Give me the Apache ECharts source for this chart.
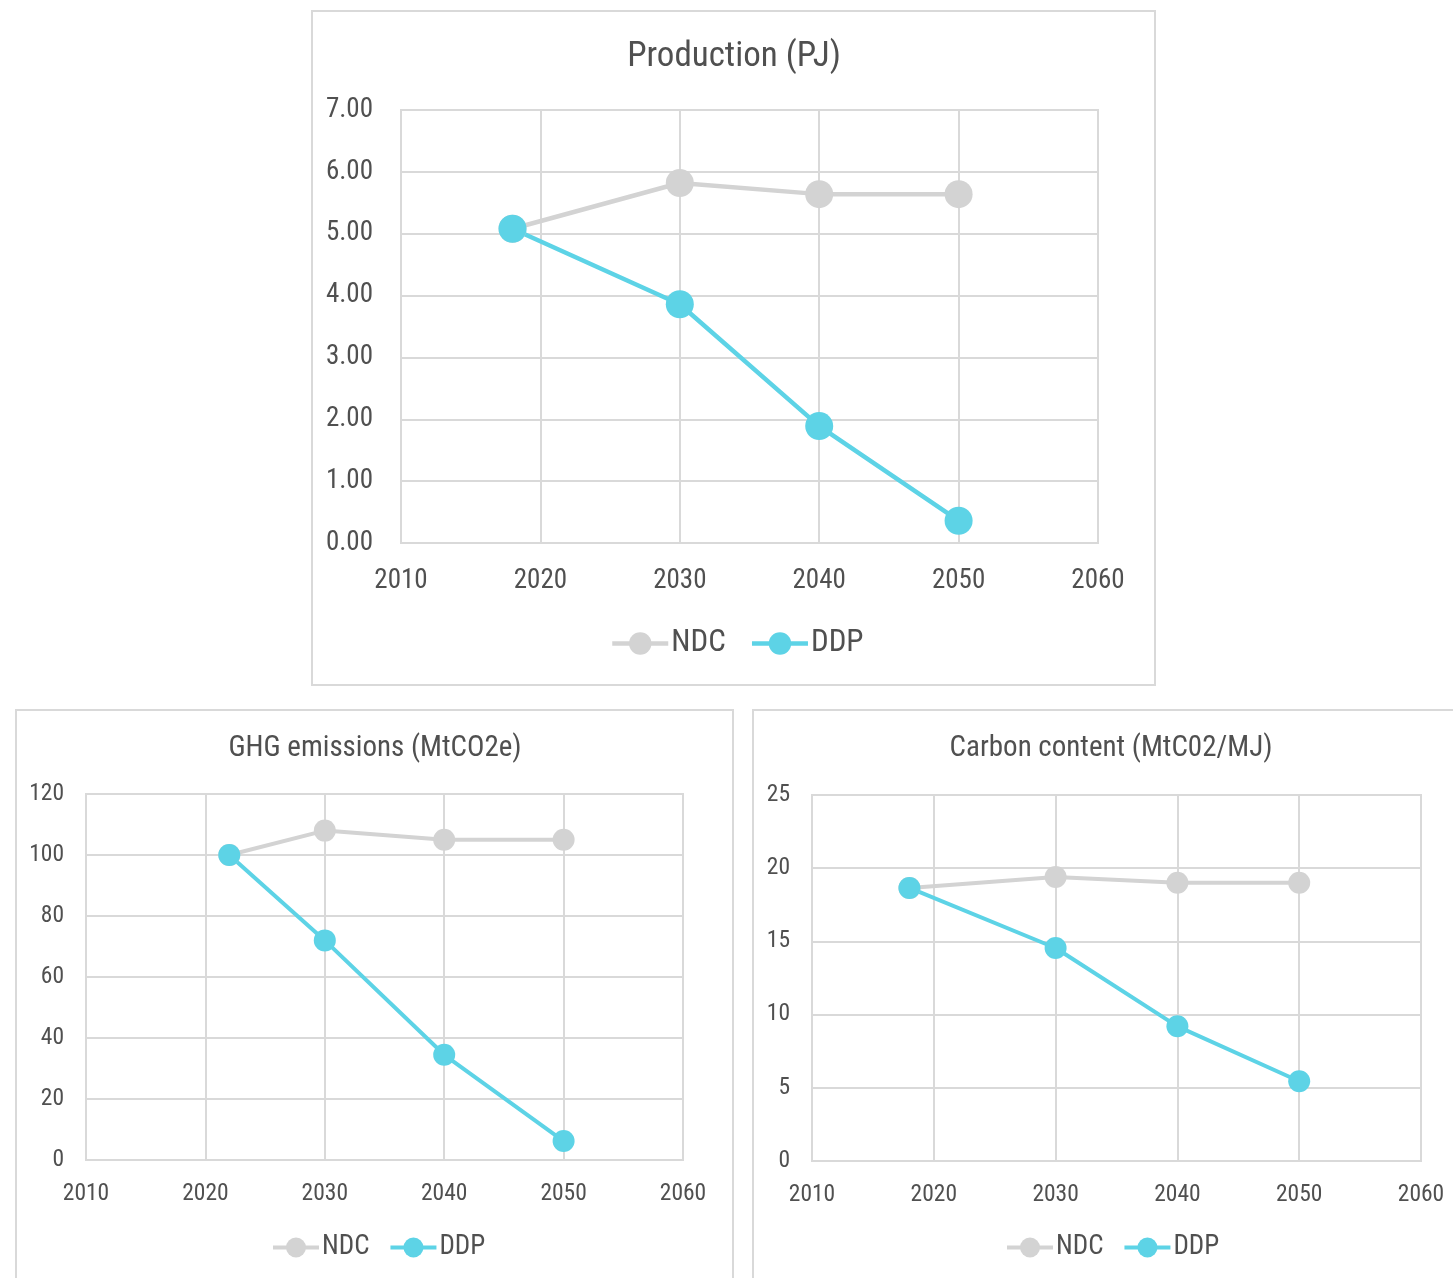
<!DOCTYPE html>
<html>
<head>
<meta charset="utf-8">
<title>Production, GHG emissions and carbon content</title>
<script src="https://cdn.jsdelivr.net/npm/echarts@6/dist/echarts.min.js"></script>
<style>
  html, body { margin: 0; padding: 0; background: #ffffff; }
  #chart { width: 1453px; height: 1278px; }
</style>
</head>
<body>
<div id="chart"></div>
<script>
// Series names
const seriesNames = ['NDC', 'DDP'];

// Production (PJ)
const prodYears = [2018, 2030, 2040, 2050];
const prodNDC = [5.08, 5.82, 5.64, 5.64];
const prodDDP = [5.08, 3.86, 1.89, 0.36];

// GHG emissions (MtCO2e)
const ghgYears = [2022, 2030, 2040, 2050];
const ghgNDC = [100, 108, 105, 105];
const ghgDDP = [100, 72, 34.5, 6.2];

// Carbon content (MtC02/MJ)
const carbonYears = [2018, 2030, 2040, 2050];
const carbonNDC = [18.65, 19.4, 19.0, 19.0];
const carbonDDP = [18.65, 14.55, 9.2, 5.45];

// Axis ranges
const yearMin = 2010, yearMax = 2060, yearStep = 10;
const prodMax = 7, prodStep = 1;
const ghgMax = 120, ghgStep = 20;
const carbonMax = 25, carbonStep = 5;

const FONT = '"Roboto Condensed", "Liberation Sans Narrow", "Arial Narrow", "DejaVu Sans Condensed", sans-serif';
const TEXT = '#505050';
const GRIDLINE = '#d9d9d9';
const COLORS = { NDC: '#d3d3d3', DDP: '#5dd3e6' };

function pairs(xs, ys) { return xs.map((x, i) => [x, ys[i]]); }

const panels = [
  {
    title: 'Production (PJ)', titleX: 734, titleY: 57, titleSize: 35,
    grid: { left: 401, top: 110, width: 697, height: 433 },
    yMax: prodMax, yStep: prodStep, fmt: v => v.toFixed(2),
    tickSize: 27, yMargin: 28, xMargin: 25,
    years: prodYears, ndc: prodNDC, ddp: prodDDP,
    lineWidth: 4.5, symbolSize: 28,
    legend: { left: 610, top: 628, itemWidth: 56, itemHeight: 28, itemGap: 24, fontSize: 31, lineWidth: 4.5 }
  },
  {
    title: 'GHG emissions (MtCO2e)', titleX: 375, titleY: 749, titleSize: 29,
    grid: { left: 86, top: 794, width: 597, height: 366 },
    yMax: ghgMax, yStep: ghgStep, fmt: v => String(v),
    tickSize: 23.5, yMargin: 22, xMargin: 22,
    years: ghgYears, ndc: ghgNDC, ddp: ghgDDP,
    lineWidth: 4, symbolSize: 22,
    legend: { left: 271, top: 1234, itemWidth: 46, itemHeight: 25, itemGap: 19, fontSize: 27, lineWidth: 4 }
  },
  {
    title: 'Carbon content (MtC02/MJ)', titleX: 1111, titleY: 749, titleSize: 29,
    grid: { left: 812, top: 795, width: 609, height: 366 },
    yMax: carbonMax, yStep: carbonStep, fmt: v => String(v),
    tickSize: 23.5, yMargin: 22, xMargin: 22,
    years: carbonYears, ndc: carbonNDC, ddp: carbonDDP,
    lineWidth: 4, symbolSize: 22,
    legend: { left: 1005, top: 1234, itemWidth: 46, itemHeight: 25, itemGap: 19, fontSize: 27, lineWidth: 4 }
  }
];

const option = {
  backgroundColor: '#ffffff',
  animation: false,
  textStyle: { fontFamily: FONT },
  title: [],
  legend: [],
  grid: [],
  xAxis: [],
  yAxis: [],
  series: [],
  graphic: [
    // panel frames
    { type: 'rect', shape: { x: 312, y: 11, width: 843, height: 674 },
      style: { fill: 'none', stroke: GRIDLINE, lineWidth: 2 }, silent: true },
    { type: 'rect', shape: { x: 16, y: 710, width: 717, height: 600 },
      style: { fill: 'none', stroke: GRIDLINE, lineWidth: 2 }, silent: true },
    { type: 'rect', shape: { x: 753, y: 710, width: 760, height: 600 },
      style: { fill: 'none', stroke: GRIDLINE, lineWidth: 2 }, silent: true }
  ]
};

panels.forEach((p, i) => {
  option.title.push({
    text: p.title, left: p.titleX, top: p.titleY, padding: 0,
    textAlign: 'center', textVerticalAlign: 'middle',
    textStyle: { fontFamily: FONT, fontSize: p.titleSize, fontWeight: 'normal', color: '#505050' }
  });
  option.grid.push(Object.assign({ show: true, borderColor: GRIDLINE, borderWidth: 2, containLabel: false }, p.grid));
  option.xAxis.push({
    type: 'value', gridIndex: i, min: yearMin, max: yearMax, interval: yearStep,
    axisLine: { show: false }, axisTick: { show: false },
    axisLabel: { margin: p.xMargin, color: TEXT, fontFamily: FONT, fontSize: p.tickSize, formatter: v => String(v) },
    splitLine: { show: true, lineStyle: { color: GRIDLINE, width: 2 } }
  });
  option.yAxis.push({
    type: 'value', gridIndex: i, min: 0, max: p.yMax, interval: p.yStep,
    axisLine: { show: false }, axisTick: { show: false },
    axisLabel: { margin: p.yMargin, color: TEXT, fontFamily: FONT, fontSize: p.tickSize, formatter: p.fmt },
    splitLine: { show: true, lineStyle: { color: GRIDLINE, width: 2 } }
  });
  const legendData = seriesNames.map(n => n + '\u200b'.repeat(i));
  option.legend.push({
    data: legendData, left: p.legend.left, top: p.legend.top, orient: 'horizontal', padding: 0,
    itemWidth: p.legend.itemWidth, itemHeight: p.legend.itemHeight, itemGap: p.legend.itemGap,
    selectedMode: false,
    lineStyle: { width: p.legend.lineWidth },
    textStyle: { fontFamily: FONT, fontSize: p.legend.fontSize, color: TEXT, padding: [0, 0, 0, -2] }
  });
  [['NDC', p.ndc], ['DDP', p.ddp]].forEach(([name, vals]) => {
    option.series.push({
      name: name + '\u200b'.repeat(i), type: 'line', xAxisIndex: i, yAxisIndex: i,
      data: pairs(p.years, vals),
      symbol: 'circle', symbolSize: p.symbolSize,
      lineStyle: { color: COLORS[name], width: p.lineWidth },
      itemStyle: { color: COLORS[name] },
      emphasis: { disabled: true }
    });
  });
});

const chart = echarts.init(document.getElementById('chart'), null, { renderer: 'canvas' });
chart.setOption(option);
</script>
</body>
</html>
